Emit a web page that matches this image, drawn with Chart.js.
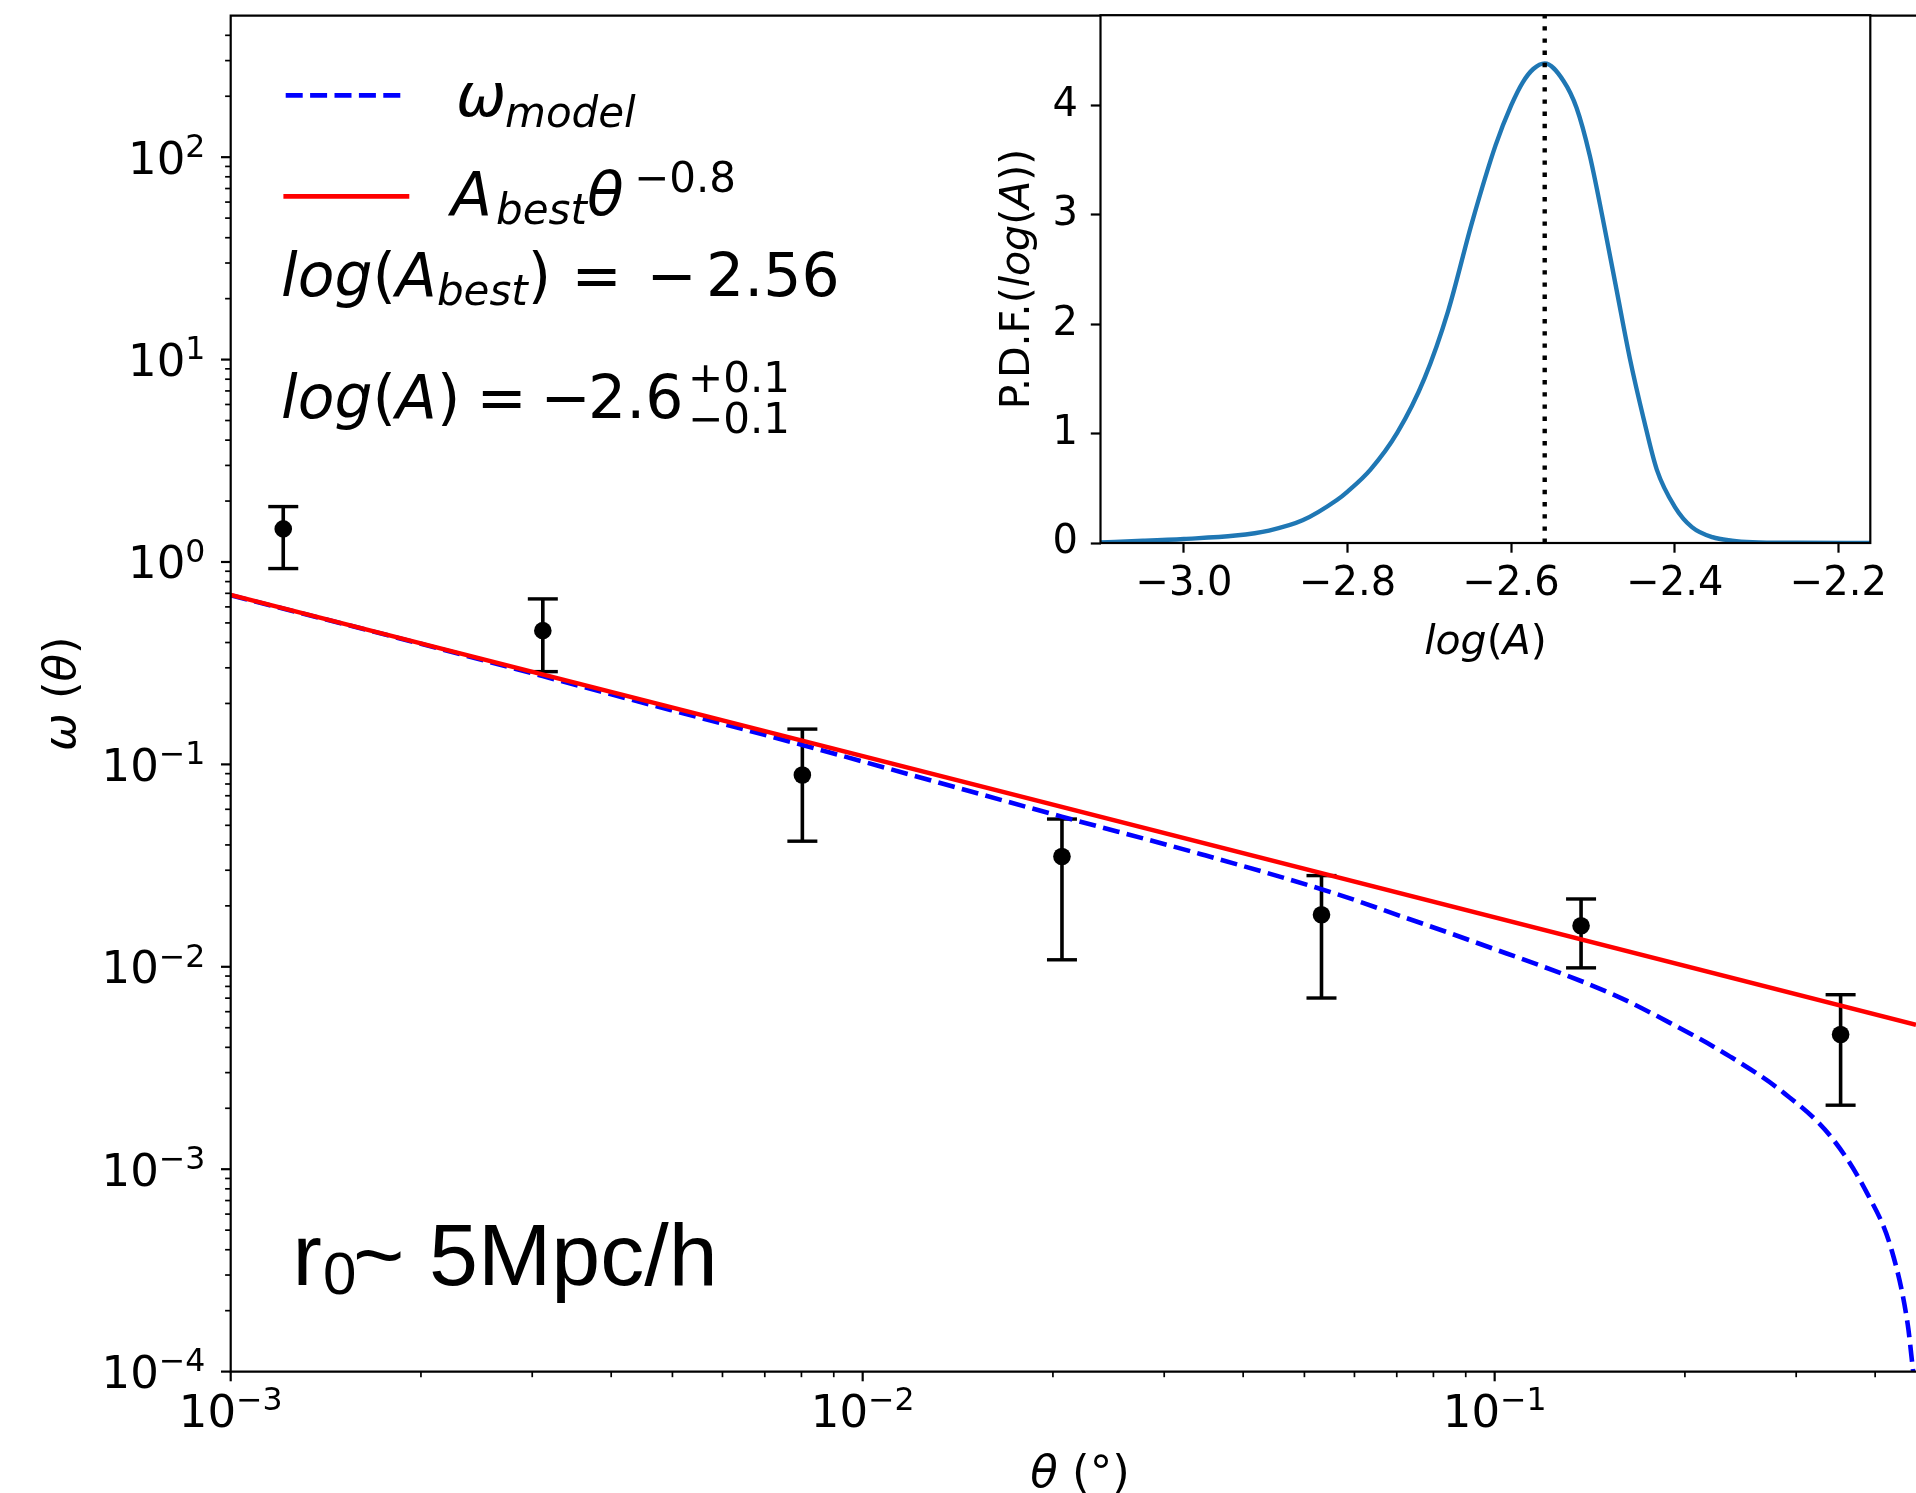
<!DOCTYPE html>
<html>
<head>
<meta charset="utf-8">
<script src="https://cdn.jsdelivr.net/npm/chart.js@4.4.0/dist/chart.umd.min.js"></script>
<style>
  html, body { margin: 0; padding: 0; background: #fff; overflow: hidden; }
  #wrap { position: relative; width: 1916px; height: 1493px; }
  #main { position: absolute; left: 0; top: 0; }
  #inset { position: absolute; left: 990px; top: 0; }
</style>
</head>
<body>
<div id="wrap">
  <canvas id="main" width="1916" height="1493"></canvas>
  <canvas id="inset" width="926" height="700"></canvas>
</div>
<script>
// measured w(theta) with error bars
const obsTheta = [0.001211, 0.003118, 0.008027, 0.02067, 0.05321, 0.1370, 0.3527];
const obsOmega = [1.457, 0.458, 0.0886, 0.03507, 0.01809, 0.01594, 0.004629];
const obsLow   = [0.928, 0.2873, 0.04174, 0.01083, 0.00701, 0.00988, 0.002071];
const obsHigh  = [1.878, 0.657, 0.1494, 0.0537, 0.02822, 0.02163, 0.00728];

// model curve (blue dashed)
const modelTheta = [0.001, 0.002, 0.00385, 0.00808, 0.02065, 0.0342, 0.0562, 0.0708, 0.0927,
                    0.1528, 0.1897, 0.2355, 0.2874, 0.3396, 0.3882, 0.4246, 0.4503, 0.4594];
const modelOmega = [0.685, 0.394, 0.229, 0.124, 0.0552, 0.0361, 0.0229, 0.01786, 0.0133,
                    0.00738, 0.00527, 0.00361, 0.00237, 0.001462, 0.000764, 0.0004, 0.000172, 0.0001];

// best power law fit (red)
const fitTheta = [0.001, 0.4642];
const fitOmega = [0.688, 0.00517];

// inset: P.D.F. of log(A)
const pdfLogA = [-3.102, -3.05, -3.0, -2.937, -2.896, -2.855, -2.813, -2.8, -2.772, -2.739, -2.706,
                 -2.677, -2.648, -2.619, -2.6, -2.586, -2.573, -2.559, -2.536, -2.52, -2.504, -2.487,
                 -2.471, -2.455, -2.438, -2.422, -2.4, -2.379, -2.354, -2.33, -2.305, -2.25, -2.161];
const pdfValue = [0.006, 0.02, 0.037, 0.068, 0.114, 0.207, 0.393, 0.47, 0.671, 1.011, 1.505,
                  2.123, 2.927, 3.637, 4.0, 4.209, 4.333, 4.385, 4.224, 3.977, 3.545, 2.927,
                  2.308, 1.69, 1.134, 0.671, 0.331, 0.145, 0.053, 0.022, 0.008, 0.002, 0.0];
const peakLogA = -2.559;

// ticks
const xMajor = [1e-3, 1e-2, 1e-1];
const xMajorExp = ['\u22123', '\u22122', '\u22121'];
const yMajor = [1e-4, 1e-3, 1e-2, 1e-1, 1, 10, 100];
const yMajorExp = ['\u22124', '\u22123', '\u22122', '\u22121', '0', '1', '2'];
const insetXTicks = [-3.0, -2.8, -2.6, -2.4, -2.2];
const insetYTicks = [0, 1, 2, 3, 4];

const X_MIN = 0.001, X_MAX = 0.4642, Y_MIN = 1e-4, Y_MAX = 500;
const INSET_X_MIN = -3.102, INSET_X_MAX = -2.161, INSET_Y_MAX = 4.825;

function minorsOf(majors, lo, hi) {
  const out = [];
  majors.forEach(m => {
    for (let k = 2; k <= 9; k++) {
      const v = m * k;
      if (v > lo && v < hi) out.push(v);
    }
  });
  return out;
}
const xMinor = minorsOf(xMajor, X_MIN, X_MAX);
const yMinor = minorsOf(yMajor, Y_MIN, Y_MAX);

const SANS = "'DejaVu Sans'";
const ARIAL = "'Liberation Sans'";
const fontOf = r => (r.it ? 'italic ' : '') + r.s + 'px ' + (r.f || SANS);

function runWidth(ctx, runs) {
  let w = 0;
  runs.forEach(r => { ctx.font = fontOf(r); w += ctx.measureText(r.t).width; });
  return w;
}

function drawRuns(ctx, x, y, runs) {
  runs.forEach(r => {
    ctx.font = fontOf(r);
    if (r.at !== undefined) x = r.at;
    ctx.fillText(r.t, x, y + (r.dy || 0));
    x += ctx.measureText(r.t).width;
  });
}

function seg(ctx, x0, y0, x1, y1, w) {
  ctx.lineWidth = w;
  ctx.beginPath();
  ctx.moveTo(x0, y0);
  ctx.lineTo(x1, y1);
  ctx.stroke();
}

// error bars go under the lines
const errorBars = {
  id: 'errorBars',
  beforeDatasetsDraw(chart) {
    const { ctx, scales: { x, y } } = chart;
    ctx.save();
    ctx.strokeStyle = '#000';
    ctx.lineCap = 'butt';
    obsTheta.forEach((t, i) => {
      const px = x.getPixelForValue(t);
      const top = y.getPixelForValue(obsHigh[i]);
      const bot = y.getPixelForValue(obsLow[i]);
      seg(ctx, px, top, px, bot, 3.6);
      seg(ctx, px - 15, top, px + 15, top, 3.4);
      seg(ctx, px - 15, bot, px + 15, bot, 3.4);
    });
    ctx.restore();
  }
};

const mainDecor = {
  id: 'mainDecor',
  afterDatasetsDraw(chart) {
    const { ctx, chartArea: a, scales: { x, y } } = chart;
    ctx.save();
    ctx.strokeStyle = '#000';
    ctx.fillStyle = '#000';
    ctx.lineWidth = 2.2;
    ctx.beginPath();
    ctx.moveTo(a.right, a.top);
    ctx.lineTo(a.left, a.top);
    ctx.lineTo(a.left, a.bottom);
    ctx.lineTo(a.right, a.bottom);
    ctx.stroke();

    yMinor.forEach(v => { const p = y.getPixelForValue(v); seg(ctx, a.left, p, a.left - 5.6, p, 1.7); });
    yMajor.forEach(v => { const p = y.getPixelForValue(v); seg(ctx, a.left, p, a.left - 9.7, p, 2.2); });
    xMinor.forEach(v => { const p = x.getPixelForValue(v); seg(ctx, p, a.bottom, p, a.bottom + 5.6, 1.7); });
    xMajor.forEach(v => { const p = x.getPixelForValue(v); seg(ctx, p, a.bottom, p, a.bottom + 9.7, 2.2); });

    ctx.textAlign = 'left';
    ctx.textBaseline = 'alphabetic';
    const right = a.left - 25.4;
    yMajor.forEach((v, i) => {
      const p = y.getPixelForValue(v);
      ctx.font = fontOf({ s: 31.5 });
      const ws = ctx.measureText(yMajorExp[i]).width;
      ctx.font = fontOf({ s: 45 });
      const wm = ctx.measureText('10').width;
      ctx.fillText('10', right - ws - wm, p + 16.5);
      ctx.font = fontOf({ s: 31.5 });
      ctx.fillText(yMajorExp[i], right - ws, p + 16.5 - 16.7);
    });
    xMajor.forEach((v, i) => {
      const p = x.getPixelForValue(v);
      ctx.font = fontOf({ s: 31.5 });
      const ws = ctx.measureText(xMajorExp[i]).width;
      ctx.font = fontOf({ s: 45 });
      const wm = ctx.measureText('10').width;
      const x0 = p - (ws + wm) / 2;
      ctx.fillText('10', x0, a.bottom + 54.9);
      ctx.font = fontOf({ s: 31.5 });
      ctx.fillText(xMajorExp[i], x0 + wm, a.bottom + 38.2);
    });

    // axis titles
    const xl = [{ t: '\u03b8', s: 45, it: true }, { t: ' (\u00b0)', s: 45 }];
    drawRuns(ctx, 1080 - runWidth(ctx, xl) / 2, a.bottom + 115.4, xl);

    ctx.save();
    ctx.translate(a.left - 155.7, (a.top + a.bottom) / 2);
    ctx.rotate(-Math.PI / 2);
    const yl = [{ t: '\u03c9', s: 45, it: true }, { t: ' (', s: 45 }, { t: '\u03b8', s: 45, it: true }, { t: ')', s: 45 }];
    drawRuns(ctx, -runWidth(ctx, yl) / 2, 0, yl);
    ctx.restore();

    // legend
    ctx.lineCap = 'butt';
    ctx.strokeStyle = '#0000ff';
    ctx.setLineDash([17, 7.4]);
    seg(ctx, 285.7, 95.4, 407, 95.4, 4.6);
    ctx.setLineDash([]);
    ctx.lineCap = 'square';
    ctx.strokeStyle = '#ff0000';
    seg(ctx, 285.7, 196.4, 407, 196.4, 4.6);

    drawRuns(ctx, 456, 116, [
      { t: '\u03c9', s: 60, it: true },
      { t: 'model', s: 42, it: true, dy: 10.8, at: 505 }
    ]);
    drawRuns(ctx, 451, 215, [
      { t: 'A', s: 60, it: true },
      { t: 'best', s: 42, it: true, dy: 9, at: 496 },
      { t: '\u03b8', s: 60, it: true, at: 587 },
      { t: '\u22120.8', s: 42, dy: -23, at: 634 }
    ]);

    // fit annotations
    drawRuns(ctx, 281, 296.4, [
      { t: 'log', s: 60, it: true },
      { t: '(', s: 60 },
      { t: 'A', s: 60, it: true },
      { t: 'best', s: 42, it: true, dy: 8.6 },
      { t: ')', s: 60 },
      { t: '=', s: 60, at: 571.6 },
      { t: '\u2212', s: 60, at: 646.6 },
      { t: '2.56', s: 60, at: 706 }
    ]);
    drawRuns(ctx, 281, 417.5, [
      { t: 'log', s: 60, it: true },
      { t: '(', s: 60 },
      { t: 'A', s: 60, it: true },
      { t: ')', s: 60 },
      { t: '=', s: 60, at: 476.6 },
      { t: '\u2212', s: 60, at: 540.6 },
      { t: '2.6', s: 60, at: 588 },
      { t: '+0.1', s: 42, dy: -25.7, at: 688 },
      { t: '\u22120.1', s: 42, dy: 15.4, at: 688 }
    ]);

    drawRuns(ctx, 292.5, 1285, [
      { t: 'r', s: 88, f: ARIAL },
      { t: '0', s: 60, f: ARIAL, dy: 9, at: 323 },
      { t: '~', s: 88, f: ARIAL, at: 353 },
      { t: '5Mpc/h', s: 88, f: ARIAL, at: 429 }
    ]);
    ctx.restore();
  }
};

new Chart(document.getElementById('main'), {
  type: 'line',
  data: {
    datasets: [
      {
        label: 'fit',
        data: fitTheta.map((t, i) => ({ x: t, y: fitOmega[i] })),
        borderColor: '#ff0000',
        borderWidth: 4.6,
        pointRadius: 0,
        fill: false
      },
      {
        label: 'model',
        data: modelTheta.map((t, i) => ({ x: t, y: modelOmega[i] })),
        borderColor: '#0000ff',
        borderWidth: 4.6,
        borderDash: [17, 7.4],
        pointRadius: 0,
        cubicInterpolationMode: 'monotone',
        fill: false
      },
      {
        label: 'data',
        data: obsTheta.map((t, i) => ({ x: t, y: obsOmega[i] })),
        showLine: false,
        pointRadius: 8.8,
        pointBorderWidth: 0,
        pointBackgroundColor: '#000',
        borderColor: '#000'
      }
    ]
  },
  options: {
    responsive: false,
    animation: false,
    devicePixelRatio: 1,
    events: [],
    layout: { autoPadding: false, padding: { left: 230.7, top: 15.7, right: 0, bottom: 121.4 } },
    plugins: { legend: { display: false }, tooltip: { enabled: false } },
    scales: {
      x: { type: 'logarithmic', min: X_MIN, max: X_MAX, display: false },
      y: { type: 'logarithmic', min: Y_MIN, max: Y_MAX, display: false }
    }
  },
  plugins: [errorBars, mainDecor]
});

const insetDecor = {
  id: 'insetDecor',
  beforeDraw(chart) {
    const { ctx, chartArea: a } = chart;
    ctx.save();
    ctx.fillStyle = '#fff';
    ctx.fillRect(a.left, a.top, a.right - a.left, a.bottom - a.top);
    ctx.restore();
  },
  afterDatasetsDraw(chart) {
    const { ctx, chartArea: a } = chart;
    ctx.save();
    ctx.strokeStyle = '#000';
    ctx.lineWidth = 2.2;
    ctx.strokeRect(a.left, a.top, a.right - a.left, a.bottom - a.top);

    ctx.fillStyle = '#000';
    ctx.textAlign = 'left';
    ctx.textBaseline = 'alphabetic';
    const xl = [{ t: 'log', s: 41, it: true }, { t: '(', s: 41 }, { t: 'A', s: 41, it: true }, { t: ')', s: 41 }];
    drawRuns(ctx, (a.left + a.right) / 2 - runWidth(ctx, xl) / 2, a.bottom + 111, xl);

    ctx.translate(a.left - 71.5, (a.top + a.bottom) / 2);
    ctx.rotate(-Math.PI / 2);
    const yl = [{ t: 'P.D.F.(', s: 41 }, { t: 'log', s: 41, it: true }, { t: '(', s: 41 },
                { t: 'A', s: 41, it: true }, { t: '))', s: 41 }];
    drawRuns(ctx, -runWidth(ctx, yl) / 2, 0, yl);
    ctx.restore();
  }
};

const tickFont = { family: 'DejaVu Sans', size: 40 };
const tickGrid = { display: true, drawOnChartArea: false, drawTicks: true, tickLength: 9.7, tickWidth: 2.2, tickColor: '#000' };
const noPad = s => { s.paddingTop = 0; s.paddingBottom = 0; s.paddingLeft = 0; s.paddingRight = 0; };

new Chart(document.getElementById('inset'), {
  type: 'line',
  data: {
    datasets: [
      {
        label: 'best',
        data: [{ x: peakLogA, y: 0 }, { x: peakLogA, y: INSET_Y_MAX }],
        borderColor: '#000',
        borderWidth: 4.4,
        borderDash: [4.4, 7.8],
        borderCapStyle: 'butt',
        pointRadius: 0
      },
      {
        label: 'pdf',
        data: pdfLogA.map((v, i) => ({ x: v, y: pdfValue[i] })),
        borderColor: '#1f77b4',
        borderWidth: 4.4,
        pointRadius: 0,
        cubicInterpolationMode: 'monotone'
      }
    ]
  },
  options: {
    responsive: false,
    animation: false,
    devicePixelRatio: 1,
    events: [],
    layout: { autoPadding: false, padding: { left: 0, top: 15.2, right: 45.7, bottom: 0 } },
    plugins: { legend: { display: false }, tooltip: { enabled: false } },
    scales: {
      x: {
        type: 'linear',
        min: INSET_X_MIN,
        max: INSET_X_MAX,
        afterFit: s => { s.height = 157; noPad(s); },
        afterBuildTicks: s => { s.ticks = insetXTicks.map(v => ({ value: v })); },
        grid: tickGrid,
        border: { display: false },
        ticks: {
          font: tickFont, color: '#000', padding: 7.9, maxRotation: 0, autoSkip: false,
          callback: v => (v < 0 ? '\u2212' : '') + Math.abs(v).toFixed(1)
        }
      },
      y: {
        type: 'linear',
        min: 0,
        max: INSET_Y_MAX,
        afterFit: s => { s.width = 110.5; noPad(s); },
        afterBuildTicks: s => { s.ticks = insetYTicks.map(v => ({ value: v })); },
        grid: tickGrid,
        border: { display: false },
        ticks: { font: tickFont, color: '#000', padding: 12.8, autoSkip: false, callback: v => String(v) }
      }
    }
  },
  plugins: [insetDecor]
});
</script>
</body>
</html>
